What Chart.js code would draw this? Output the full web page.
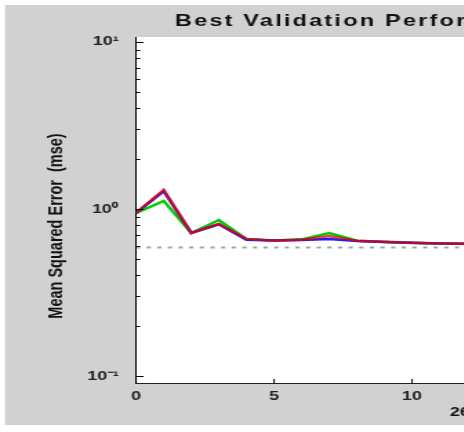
<!DOCTYPE html>
<html lang="en">
<head>
<meta charset="UTF-8">
<title>Best Validation Performance</title>
<script src="https://cdn.jsdelivr.net/npm/chart.js"></script>
<style>
  html, body { margin: 0; padding: 0; width: 464px; height: 432px; overflow: hidden; background: #fff; }
  /* the picture is stretched sideways, so draw narrow and scale the whole thing */
  #wrap { position: absolute; left: 0; top: 0; width: 700px; height: 432px; transform: scaleX(1.38); transform-origin: 0 0; }
</style>
</head>
<body>
<div id="wrap"><canvas id="perfChart" width="700" height="432"></canvas></div>
<script>
const epochs = [0, 1, 2, 3, 4, 5, 6, 7, 8, 9, 10, 11, 12, 13, 14, 15, 16, 17, 18, 19, 20, 21, 22, 23, 24, 25, 26];
const trainMse = [0.946, 1.28, 0.718, 0.81, 0.655, 0.648, 0.652, 0.66, 0.643, 0.634, 0.627, 0.622, 0.618,
                  0.615, 0.612, 0.608, 0.605, 0.603, 0.600, 0.598, 0.596, 0.594, 0.593, 0.591, 0.590, 0.589, 0.588];
const validationMse = [0.946, 1.117, 0.718, 0.859, 0.66, 0.648, 0.658, 0.718, 0.645, 0.634, 0.626, 0.621, 0.617,
                       0.612, 0.607, 0.603, 0.600, 0.597, 0.594, 0.592, 0.588, 0.589, 0.591, 0.593, 0.594, 0.596, 0.597];
const testMse = [0.946, 1.30, 0.718, 0.813, 0.662, 0.646, 0.655, 0.689, 0.645, 0.636, 0.627, 0.622, 0.619,
                 0.615, 0.610, 0.606, 0.603, 0.600, 0.598, 0.596, 0.593, 0.594, 0.595, 0.597, 0.598, 0.599, 0.600];
const bestMse = 0.588;
const yTickValues = [0.1, 1, 10];
const yTickLabels = ['10\u207B\u00B9', '10\u2070', '10\u00B9'];
const xTickStep = 5;
const titleText = 'Best Validation Performance is 0.58812 at epoch 20';
const xLabel = '26 Epochs';
const yLabel = 'Mean Squared Error  (mse)';

const fontFamily = '"Liberation Sans", Arial, sans-serif';

const backdrop = {
  id: 'backdrop',
  beforeDraw(chart) {
    const { ctx, chartArea: a, width, height } = chart;
    ctx.save();
    ctx.fillStyle = '#ffffff';
    ctx.fillRect(0, 0, width, height);
    ctx.fillStyle = '#d1d1d1';
    ctx.fillRect(3.6, 5, width, 420);
    ctx.fillStyle = '#ffffff';
    ctx.fillRect(a.left, a.top, a.right - a.left, a.bottom - a.top);
    ctx.restore();
  }
};

// matlab style ticks pointing into the plot
const innerTicks = {
  id: 'innerTicks',
  afterDatasetsDraw(chart) {
    const { ctx, scales: { x, y }, chartArea: a } = chart;
    ctx.save();
    ctx.strokeStyle = '#000';
    ctx.lineWidth = 1;
    ctx.beginPath();
    for (let p = -1; p <= 1; p++) {
      for (let m = 1; m <= 9; m++) {
        const v = m * Math.pow(10, p);
        if (v < y.min || v > y.max) continue;
        const py = Math.round(y.getPixelForValue(v)) + 0.5;
        ctx.moveTo(a.left, py);
        ctx.lineTo(a.left + (m === 1 ? 5.5 : 3), py);
      }
    }
    x.ticks.forEach(t => {
      const px = x.getPixelForValue(t.value);
      ctx.moveTo(px, a.bottom);
      ctx.lineTo(px, a.bottom - 4);
    });
    ctx.stroke();
    ctx.restore();
  }
};

const matlabText = {
  id: 'matlabText',
  afterDraw(chart) {
    const { ctx, chartArea: a } = chart;
    ctx.save();
    ctx.fillStyle = '#111';
    ctx.textBaseline = 'middle';
    ctx.textAlign = 'left';
    ctx.font = 'bold 17px ' + fontFamily;
    ctx.letterSpacing = '1.6px';
    ctx.fillText(titleText, a.left + 28.2, 21);
    ctx.letterSpacing = '0px';
    ctx.textAlign = 'center';
    ctx.font = 'bold 14.5px ' + fontFamily;
    ctx.translate(41, 226);
    ctx.rotate(-Math.PI / 2);
    ctx.fillText(yLabel, 0, 0);
    ctx.restore();
  }
};

const pts = vals => epochs.map((e, i) => ({ x: e, y: vals[i] }));

new Chart(document.getElementById('perfChart'), {
  type: 'line',
  data: {
    datasets: [
      { label: 'Test', data: pts(testMse), borderColor: 'rgba(230,0,0,0.75)', borderWidth: 2.5, order: 1 },
      { label: 'Train', data: pts(trainMse), borderColor: '#2020ff', borderWidth: 2.5, order: 2 },
      { label: 'Validation', data: pts(validationMse), borderColor: '#00cc00', borderWidth: 2.5, order: 3 },
      { label: 'Best', data: epochs.map(e => ({ x: e, y: bestMse })), borderColor: '#8fa9a2',
        borderWidth: 1.8, borderDash: [3, 4.7], order: 4 }
    ]
  },
  options: {
    responsive: false,
    animation: false,
    layout: { padding: { top: 37, right: 81.4, bottom: 0, left: 0 } },
    elements: { point: { radius: 0 }, line: { tension: 0 } },
    plugins: { legend: { display: false }, tooltip: { enabled: false }, title: { display: false } },
    scales: {
      x: {
        type: 'linear',
        min: 0,
        max: epochs[epochs.length - 1],
        grid: { display: false, drawTicks: false },
        border: { display: true, color: '#222', width: 1 },
        ticks: { stepSize: xTickStep, includeBounds: false, padding: 6, color: '#222',
                 font: { family: fontFamily, size: 13, weight: 'bold' } },
        title: { display: true, text: xLabel, color: '#111', padding: { top: 0, bottom: 12 },
                 font: { family: fontFamily, size: 13, weight: 'bold' } },
        afterFit(scale) { scale.height = 49; }
      },
      y: {
        type: 'logarithmic',
        min: 0.0908,
        max: 10.7,
        grid: { display: false, drawTicks: false },
        border: { display: true, color: '#000', width: 1 },
        afterBuildTicks(scale) { scale.ticks = yTickValues.map(v => ({ value: v })); },
        ticks: {
          autoSkip: false,
          padding: 12.5,
          color: '#222',
          font: { family: fontFamily, size: 13, weight: 'bold' },
          callback: v => yTickLabels[yTickValues.indexOf(v)] ?? ''
        },
        afterFit(scale) { scale.width = 98.6; }
      }
    }
  },
  plugins: [backdrop, innerTicks, matlabText]
});
</script>
</body>
</html>
